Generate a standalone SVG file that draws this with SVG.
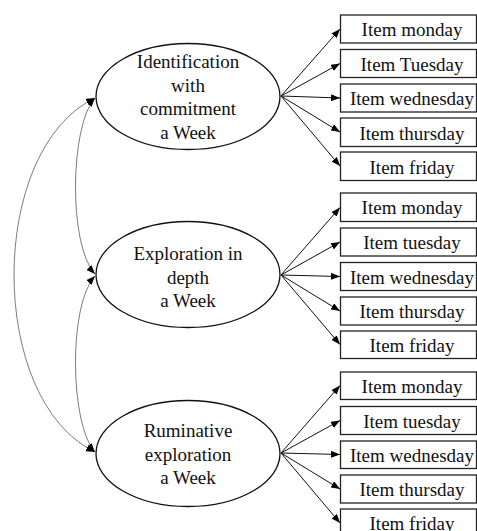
<svg xmlns="http://www.w3.org/2000/svg" width="477" height="531" viewBox="0 0 477 531">
<style>
text{font-family:"Liberation Serif","Times New Roman",serif;font-size:19px;fill:#111;text-anchor:middle}
.box{fill:#fff;stroke:#222;stroke-width:1.3}
.lat{fill:#fff;stroke:#111;stroke-width:1.3}
.ld{fill:none;stroke:#111;stroke-width:1;marker-end:url(#ah)}
.cv{fill:none;stroke:#444;stroke-width:0.7;marker-start:url(#ah);marker-end:url(#ah)}
</style>
<defs>
<marker id="ah" markerUnits="userSpaceOnUse" viewBox="0 0 9 7" markerWidth="9" markerHeight="7" refX="9" refY="3.5" orient="auto-start-reverse">
<path d="M0 0 L9 3.5 L0 7 z" fill="#000"/>
</marker>
</defs>
<rect width="477" height="531" fill="#fff"/>
<g id="connectors">
<path class="cv" d="M95 98 C70 125 68 245 95 274"/>
<path class="cv" d="M95 276 C68 305 70 425 95 452"/>
<path class="cv" d="M95 98 C-13 150 -13 400 95 452"/>
<line class="ld" x1="281" y1="96" x2="340" y2="29"/>
<line class="ld" x1="281" y1="96" x2="340" y2="63.5"/>
<line class="ld" x1="281" y1="96" x2="340" y2="98"/>
<line class="ld" x1="281" y1="96" x2="340" y2="132"/>
<line class="ld" x1="281" y1="96" x2="340" y2="166"/>
<line class="ld" x1="281" y1="275" x2="340" y2="207.5"/>
<line class="ld" x1="281" y1="275" x2="340" y2="242"/>
<line class="ld" x1="281" y1="275" x2="340" y2="276.5"/>
<line class="ld" x1="281" y1="275" x2="340" y2="311"/>
<line class="ld" x1="281" y1="275" x2="340" y2="344.5"/>
<line class="ld" x1="281" y1="453" x2="340" y2="385.5"/>
<line class="ld" x1="281" y1="453" x2="340" y2="420.5"/>
<line class="ld" x1="281" y1="453" x2="340" y2="454.5"/>
<line class="ld" x1="281" y1="453" x2="340" y2="489"/>
<line class="ld" x1="281" y1="453" x2="340" y2="523"/>
</g>
<g id="f1">
<ellipse class="lat" cx="188" cy="96.5" rx="92" ry="53"/>
<text x="188" y="68">Identification</text>
<text x="188" y="91.5">with</text>
<text x="188" y="115">commitment</text>
<text x="188" y="138.5">a Week</text>
</g>
<g id="f2">
<ellipse class="lat" cx="188" cy="274.5" rx="92" ry="53"/>
<text x="188" y="260">Exploration in</text>
<text x="188" y="283.5">depth</text>
<text x="188" y="307">a Week</text>
</g>
<g id="f3">
<ellipse class="lat" cx="188" cy="453.5" rx="92" ry="53"/>
<text x="188" y="437">Ruminative</text>
<text x="188" y="460.5">exploration</text>
<text x="188" y="484">a Week</text>
</g>
<g id="g1-mon"><rect class="box" x="340.5" y="15" width="136" height="28"/><text x="412" y="36">Item monday</text></g>
<g id="g1-tue"><rect class="box" x="340.5" y="49.5" width="136" height="28"/><text x="412" y="70.5">Item Tuesday</text></g>
<g id="g1-wed"><rect class="box" x="340.5" y="84" width="136" height="28"/><text x="412" y="105">Item wednesday</text></g>
<g id="g1-thu"><rect class="box" x="340.5" y="118" width="136" height="28.5"/><text x="412" y="139.5">Item thursday</text></g>
<g id="g1-fri"><rect class="box" x="340.5" y="152" width="136" height="28.5"/><text x="412" y="173.5">Item friday</text></g>
<g id="g2-mon"><rect class="box" x="340.5" y="193" width="136" height="28.5"/><text x="412" y="214">Item monday</text></g>
<g id="g2-tue"><rect class="box" x="340.5" y="228" width="136" height="28"/><text x="412" y="249">Item tuesday</text></g>
<g id="g2-wed"><rect class="box" x="340.5" y="262.5" width="136" height="28"/><text x="412" y="283.5">Item wednesday</text></g>
<g id="g2-thu"><rect class="box" x="340.5" y="297" width="136" height="28"/><text x="412" y="318">Item thursday</text></g>
<g id="g2-fri"><rect class="box" x="340.5" y="331" width="136" height="27.5"/><text x="412" y="352">Item friday</text></g>
<g id="g3-mon"><rect class="box" x="340.5" y="372" width="136" height="27.5"/><text x="412" y="393">Item monday</text></g>
<g id="g3-tue"><rect class="box" x="340.5" y="406.5" width="136" height="28"/><text x="412" y="427.5">Item tuesday</text></g>
<g id="g3-wed"><rect class="box" x="340.5" y="441" width="136" height="27.5"/><text x="412" y="462">Item wednesday</text></g>
<g id="g3-thu"><rect class="box" x="340.5" y="475" width="136" height="28"/><text x="412" y="496">Item thursday</text></g>
<g id="g3-fri"><rect class="box" x="340.5" y="509" width="136" height="28"/><text x="412" y="530">Item friday</text></g>
</svg>
